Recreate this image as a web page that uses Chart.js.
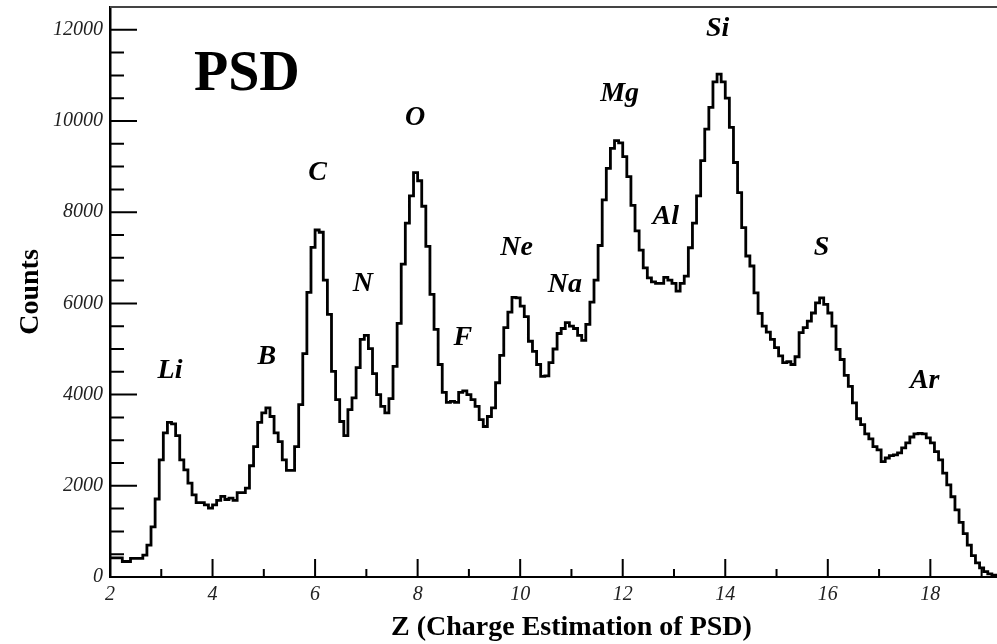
<!DOCTYPE html>
<html>
<head>
<meta charset="utf-8">
<title>PSD charge spectrum</title>
<script src="https://cdn.jsdelivr.net/npm/chart.js@4/dist/chart.umd.min.js"></script>
<style>
  html, body { margin: 0; padding: 0; background: #fff; }
  #wrap { width: 997px; height: 644px; }
</style>
</head>
<body>
<div id="wrap"><canvas id="psdChart" width="997" height="644"></canvas></div>
<script>
// histogram: bins of 0.08 in Z starting at 2.0
const binStart = 2.0;
const binWidth = 0.08;
const counts = [
  420, 420, 420, 340, 340, 410, 410, 410, 480, 700,
  1100, 1710, 2570, 3160, 3390, 3360, 3100, 2570, 2350, 2060,
  1800, 1630, 1630, 1580, 1510, 1580, 1680, 1770, 1700, 1730,
  1680, 1850, 1850, 1950, 2440, 2860, 3390, 3600, 3710, 3520,
  3160, 2970, 2570, 2340, 2340, 2860, 3780, 4900, 6240, 7230,
  7610, 7560, 6510, 5760, 4510, 3890, 3410, 3100, 3670, 3930,
  4590, 5210, 5300, 5010, 4460, 4000, 3740, 3600, 3910, 4620,
  5560, 6860, 7760, 8360, 8870, 8690, 8130, 7250, 6200, 5430,
  4660, 4050, 3830, 3850, 3830, 4050, 4080, 4000, 3890, 3740,
  3450, 3300, 3520, 3710, 4260, 4860, 5470, 5810, 6130, 6120,
  5940, 5710, 5170, 4950, 4660, 4400, 4410, 4700, 5000, 5340,
  5450, 5580, 5500, 5450, 5300, 5190, 5540, 6030, 6510, 7270,
  8270, 8960, 9400, 9570, 9520, 9220, 8780, 8150, 7590, 7170,
  6780, 6560, 6470, 6440, 6440, 6570, 6510, 6440, 6270, 6440,
  6600, 7220, 7760, 8360, 9130, 9820, 10300, 10860, 11030, 10860,
  10500, 9860, 9090, 8430, 7660, 7040, 6820, 6230, 5780, 5500,
  5370, 5210, 5030, 4850, 4700, 4720, 4660, 4830, 5360, 5470,
  5610, 5790, 6010, 6120, 5980, 5790, 5500, 4990, 4770, 4420,
  4180, 3820, 3470, 3340, 3140, 3030, 2860, 2790, 2530, 2610,
  2660, 2680, 2720, 2830, 2940, 3070, 3140, 3150, 3140, 3050,
  2940, 2750, 2570, 2280, 2020, 1760, 1470, 1200, 950, 700,
  470, 310, 200, 120, 70, 40, 25
];

// element names and where they sit (Z, counts)
const elementNames  = ['Li', 'B', 'C', 'N', 'O', 'F', 'Ne', 'Na', 'Mg', 'Al', 'Si', 'S', 'Ar'];
const elementZ      = [3.17, 5.06, 6.05, 6.93, 7.95, 8.88, 9.93, 10.87, 11.94, 12.84, 13.85, 15.88, 17.89];
const elementCounts = [4520, 4820, 8860, 6430, 10070, 5240, 7210, 6400, 10590, 7890, 12020, 7210, 4300];

const serif = "'Liberation Serif', 'DejaVu Serif', serif";

// step points at the left edge of each bin, plus the closing edge
const points = counts.map((c, i) => ({ x: binStart + i * binWidth, y: c }));
points.push({ x: binStart + counts.length * binWidth, y: counts[counts.length - 1] });

const decorPlugin = {
  id: 'decor',
  afterDraw(chart) {
    const ctx = chart.ctx;
    const a = chart.chartArea;
    const x = chart.scales.x;
    const y = chart.scales.y;
    ctx.save();

    // top frame
    ctx.strokeStyle = '#444';
    ctx.lineWidth = 2;
    ctx.beginPath();
    ctx.moveTo(a.left, a.top);
    ctx.lineTo(a.right, a.top);
    ctx.stroke();

    // inward ticks
    ctx.strokeStyle = '#000';
    ctx.lineWidth = 2;
    ctx.beginPath();
    x.ticks.forEach(t => {
      if (t.value <= x.min || t.value >= x.max) return;
      const px = x.getPixelForValue(t.value);
      const len = t.value % 2 === 0 ? 18 : 8;
      ctx.moveTo(px, a.bottom);
      ctx.lineTo(px, a.bottom - len);
    });
    y.ticks.forEach(t => {
      if (t.value <= y.min || t.value >= y.max) return;
      const py = y.getPixelForValue(t.value);
      const len = t.value % 2000 === 0 ? 27 : 14;
      ctx.moveTo(a.left, py);
      ctx.lineTo(a.left + len, py);
    });
    ctx.stroke();

    // element labels
    ctx.fillStyle = '#000';
    ctx.textAlign = 'center';
    ctx.textBaseline = 'middle';
    ctx.font = 'italic bold 28px ' + serif;
    elementNames.forEach((n, i) => {
      ctx.fillText(n, x.getPixelForValue(elementZ[i]), y.getPixelForValue(elementCounts[i]));
    });

    ctx.font = 'bold 56px ' + serif;
    ctx.fillText('PSD', x.getPixelForValue(4.67), y.getPixelForValue(10990));

    // x axis title
    ctx.font = 'bold 28px ' + serif;
    ctx.fillText('Z (Charge Estimation of PSD)', x.getPixelForValue(11.0), 628);
    ctx.restore();
  }
};

new Chart(document.getElementById('psdChart'), {
  type: 'line',
  data: {
    datasets: [{
      label: 'PSD',
      data: points,
      stepped: true,
      borderColor: '#000',
      borderWidth: 2.8,
      pointRadius: 0,
      fill: false,
      tension: 0
    }]
  },
  options: {
    responsive: false,
    animation: false,
    devicePixelRatio: 1,
    layout: { padding: { top: 7, right: 0, bottom: 0, left: 0 } },
    plugins: {
      legend: { display: false },
      tooltip: { enabled: false }
    },
    scales: {
      x: {
        type: 'linear',
        min: 2,
        max: 19.3,
        grid: { display: false, drawTicks: false },
        border: { display: true, color: '#000', width: 2 },
        ticks: {
          stepSize: 1,
          autoSkip: false,
          includeBounds: false,
          maxRotation: 0,
          padding: 6,
          color: '#222',
          font: { family: serif, style: 'italic', size: 20 },
          callback: v => (v % 2 === 0 ? v : '')
        },
        afterFit: s => {
          s.height = 67;
          s.paddingLeft = 0;
          s.paddingRight = 0;
        }
      },
      y: {
        min: 0,
        max: 12500,
        grid: { display: false, drawTicks: false },
        border: { display: true, color: '#000', width: 2.5 },
        ticks: {
          stepSize: 500,
          autoSkip: false,
          includeBounds: false,
          padding: 7,
          color: '#222',
          font: { family: serif, style: 'italic', size: 20 },
          callback: v => (v % 2000 === 0 ? v : '')
        },
        title: {
          display: true,
          text: 'Counts',
          color: '#000',
          font: { family: serif, weight: 'bold', size: 28 },
          padding: { top: 14, bottom: 0 }
        },
        afterFit: s => {
          s.width = 110;
          s.paddingTop = 0;
          s.paddingBottom = 0;
        }
      }
    }
  },
  plugins: [decorPlugin]
});
</script>
</body>
</html>
